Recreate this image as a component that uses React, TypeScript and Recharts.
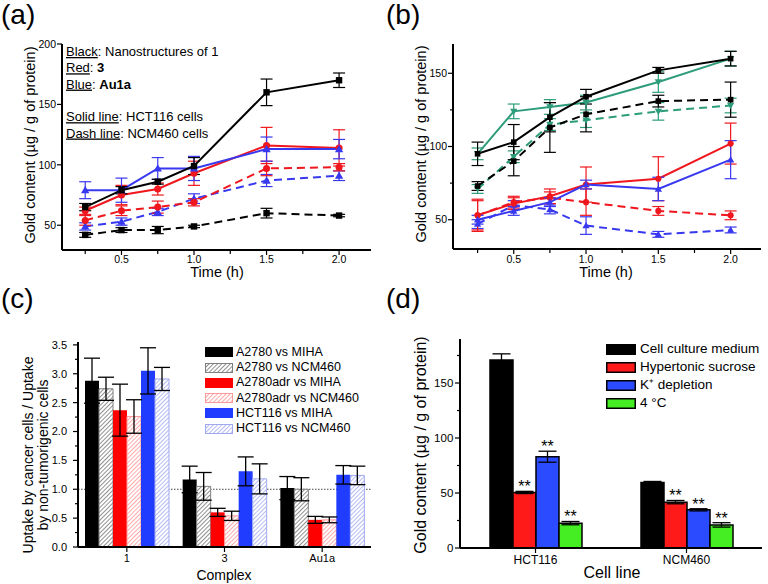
import React from 'react';
import {
  LineChart, Line, BarChart, Bar, XAxis, YAxis, ErrorBar, ReferenceLine, Legend, LabelList,
} from 'recharts';

const FONT = '"Liberation Sans", Arial, Helvetica, sans-serif';
const BLACK = '#000000';
const RED = '#f0161e';
const BLUE = '#3838f0';
const TEAL = '#2c9c7a';
const FRAME = { stroke: BLACK, strokeWidth: 2 };

// ---- (a) / (b): gold content vs time
const TIMES = [0.25, 0.5, 0.75, 1.0, 1.5, 2.0];
const TIME_TICKS = [0.25, 0.5, 0.75, 1.0, 1.25, 1.5, 1.75, 2.0];
const TIME_LABELS = [0.5, 1.0, 1.5, 2.0];

// (a) solid = HCT116, dash = NCM460
const A_BLACK_SOLID = [65, 79, 86, 99, 160, 170];
const A_BLACK_SOLID_ERR = [3, 3, 2, 7, 11, 6];
const A_RED_SOLID = [62, 75, 80, 93, 116, 114];
const A_RED_SOLID_ERR = [3, 8, 5, 10, 15, 15];
const A_BLUE_SOLID = [79, 79, 97, 97, 113, 113];
const A_BLUE_SOLID_ERR = [7, 10, 9, 10, 10, 8];
const A_BLACK_DASH = [42, 46, 46, 49, 60, 58];
const A_BLACK_DASH_ERR = [2, 2, 3, 1, 4, 1];
const A_RED_DASH = [54, 62, 65, 69, 97, 98];
const A_RED_DASH_ERR = [4, 4, 5, 3, 6, 3];
const A_BLUE_DASH = [49, 53, 61, 72, 87, 91];
const A_BLUE_DASH_ERR = [3, 3, 3, 4, 5, 4];
const A_Y_TICKS = [50, 100, 150, 200];

// (b)
const B_BLACK_SOLID = [95, 103, 120, 134, 152, 160];
const B_BLACK_SOLID_ERR = [8, 12, 10, 5, 2, 5];
const B_GREEN_SOLID = [95, 124, 127, 130, 144, 160];
const B_GREEN_SOLID_ERR = [4, 5, 5, 5, 7, 5];
const B_BLACK_DASH = [73, 90, 113, 122, 131, 132];
const B_BLACK_DASH_ERR = [3, 10, 17, 12, 4, 12];
const B_GREEN_DASH = [71, 93, 115, 118, 124, 128];
const B_GREEN_DASH_ERR = [3, 4, 4, 5, 6, 5];
const B_RED_SOLID = [53, 61, 66, 74, 78, 102];
const B_RED_SOLID_ERR = [10, 4, 5, 12, 15, 14];
const B_BLUE_SOLID = [50, 56, 62, 74, 71, 91];
const B_BLUE_SOLID_ERR = [3, 3, 3, 3, 8, 13];
const B_RED_DASH = [53, 62, 65, 62, 56, 53];
const B_RED_DASH_ERR = [11, 4, 4, 9, 3, 3];
const B_BLUE_DASH = [47, 60, 57, 46, 40, 43];
const B_BLUE_DASH_ERR = [3, 3, 3, 6, 2, 2];
const B_Y_TICKS = [50, 75, 100, 125, 150];
const B_Y_LABELS = [50, 100, 150];

// ---- (c): uptake ratios
const C_CATEGORIES = ['1', '3', 'Au1a'];
const C_SERIES = ['A2780 vs MIHA', 'A2780 vs NCM460', 'A2780adr vs MIHA', 'A2780adr vs NCM460', 'HCT116 vs MIHA', 'HCT116 vs NCM460'];
const C_A2780_MIHA = [2.88, 1.17, 1.02];
const C_A2780_MIHA_ERR = [0.39, 0.23, 0.2];
const C_A2780_NCM = [2.74, 1.05, 1.0];
const C_A2780_NCM_ERR = [0.2, 0.24, 0.2];
const C_ADR_MIHA = [2.37, 0.6, 0.47];
const C_ADR_MIHA_ERR = [0.45, 0.07, 0.06];
const C_ADR_NCM = [2.26, 0.54, 0.47];
const C_ADR_NCM_ERR = [0.29, 0.08, 0.05];
const C_HCT_MIHA = [3.05, 1.31, 1.25];
const C_HCT_MIHA_ERR = [0.4, 0.25, 0.16];
const C_HCT_NCM = [2.91, 1.18, 1.24];
const C_HCT_NCM_ERR = [0.2, 0.26, 0.16];
const C_Y_TICKS = [0, 0.25, 0.5, 0.75, 1, 1.25, 1.5, 1.75, 2, 2.25, 2.5, 2.75, 3, 3.25, 3.5];
const C_Y_LABELS = [0, 0.5, 1, 1.5, 2, 2.5, 3, 3.5];

// ---- (d): uptake inhibition
const D_CATEGORIES = ['HCT116', 'NCM460'];
const D_SERIES = ['Cell culture medium', 'Hypertonic sucrose', 'K⁺ depletion', '4 °C'];
const D_MEDIUM = [171, 59.5];
const D_MEDIUM_ERR = [5.5, 1];
const D_SUCROSE = [50.5, 41.7];
const D_SUCROSE_ERR = [1, 1.5];
const D_KDEPL = [83, 34.7];
const D_KDEPL_ERR = [5, 1];
const D_COLD = [22.6, 21];
const D_COLD_ERR = [1.5, 2];
const D_Y_TICKS = [0, 25, 50, 75, 100, 125, 150, 175];
const D_Y_LABELS = [0, 50, 100, 150];

type Shape = 'square' | 'circle' | 'up' | 'down';
type LineSeries = { key: string; values: number[]; errs: number[]; color: string; dashed: boolean; shape: Shape };

const A_SERIES: LineSeries[] = [
  { key: 'kDash', values: A_BLACK_DASH, errs: A_BLACK_DASH_ERR, color: BLACK, dashed: true, shape: 'square' },
  { key: 'bDash', values: A_BLUE_DASH, errs: A_BLUE_DASH_ERR, color: BLUE, dashed: true, shape: 'up' },
  { key: 'rDash', values: A_RED_DASH, errs: A_RED_DASH_ERR, color: RED, dashed: true, shape: 'circle' },
  { key: 'rSolid', values: A_RED_SOLID, errs: A_RED_SOLID_ERR, color: RED, dashed: false, shape: 'circle' },
  { key: 'bSolid', values: A_BLUE_SOLID, errs: A_BLUE_SOLID_ERR, color: BLUE, dashed: false, shape: 'up' },
  { key: 'kSolid', values: A_BLACK_SOLID, errs: A_BLACK_SOLID_ERR, color: BLACK, dashed: false, shape: 'square' },
];

const B_SERIES: LineSeries[] = [
  { key: 'gDash', values: B_GREEN_DASH, errs: B_GREEN_DASH_ERR, color: TEAL, dashed: true, shape: 'down' },
  { key: 'kDash', values: B_BLACK_DASH, errs: B_BLACK_DASH_ERR, color: BLACK, dashed: true, shape: 'square' },
  { key: 'gSolid', values: B_GREEN_SOLID, errs: B_GREEN_SOLID_ERR, color: TEAL, dashed: false, shape: 'down' },
  { key: 'kSolid', values: B_BLACK_SOLID, errs: B_BLACK_SOLID_ERR, color: BLACK, dashed: false, shape: 'square' },
  { key: 'bDash', values: B_BLUE_DASH, errs: B_BLUE_DASH_ERR, color: BLUE, dashed: true, shape: 'up' },
  { key: 'rDash', values: B_RED_DASH, errs: B_RED_DASH_ERR, color: RED, dashed: true, shape: 'circle' },
  { key: 'rSolid', values: B_RED_SOLID, errs: B_RED_SOLID_ERR, color: RED, dashed: false, shape: 'circle' },
  { key: 'bSolid', values: B_BLUE_SOLID, errs: B_BLUE_SOLID_ERR, color: BLUE, dashed: false, shape: 'up' },
];

const timeRows = (series: LineSeries[]) =>
  TIMES.map((t, i) => {
    const row: Record<string, number> = { t };
    series.forEach(s => {
      row[s.key] = s.values[i];
      row[s.key + 'Err'] = s.errs[i];
    });
    return row;
  });

const A_ROWS = timeRows(A_SERIES);
const B_ROWS = timeRows(B_SERIES);

const C_VALUES = [C_A2780_MIHA, C_A2780_NCM, C_ADR_MIHA, C_ADR_NCM, C_HCT_MIHA, C_HCT_NCM];
const C_ERRS = [C_A2780_MIHA_ERR, C_A2780_NCM_ERR, C_ADR_MIHA_ERR, C_ADR_NCM_ERR, C_HCT_MIHA_ERR, C_HCT_NCM_ERR];
const C_STYLE = [
  { fill: '#000000', stroke: 'none' },
  { fill: 'url(#hatchK)', stroke: '#808080' },
  { fill: '#ff0000', stroke: 'none' },
  { fill: 'url(#hatchR)', stroke: '#ff9a9a' },
  { fill: '#1f3cff', stroke: 'none' },
  { fill: 'url(#hatchB)', stroke: '#a0a8f0' },
];
const C_ROWS = C_CATEGORIES.map((cat, i) => {
  const row: Record<string, any> = { cat };
  C_VALUES.forEach((v, s) => {
    row['s' + s] = v[i];
    row['s' + s + 'Err'] = C_ERRS[s][i];
  });
  return row;
});

const D_VALUES = [D_MEDIUM, D_SUCROSE, D_KDEPL, D_COLD];
const D_ERRS = [D_MEDIUM_ERR, D_SUCROSE_ERR, D_KDEPL_ERR, D_COLD_ERR];
const D_COLORS = ['#000000', '#ff1a1a', '#2a4bff', '#44ee22'];
const D_ROWS = D_CATEGORIES.map((cat, i) => {
  const row: Record<string, any> = { cat };
  D_VALUES.forEach((v, s) => {
    row['s' + s] = v[i];
    row['s' + s + 'Err'] = D_ERRS[s][i];
  });
  return row;
});

const marker = (shape: Shape, color: string, r: number) => (p: any) => {
  const { cx, cy, index } = p;
  const k = `m-${index}`;
  if (cx == null || cy == null) return <g key={k} />;
  if (shape === 'square') return <rect key={k} x={cx - r} y={cy - r} width={2 * r} height={2 * r} fill={color} />;
  if (shape === 'circle') return <circle key={k} cx={cx} cy={cy} r={r * 1.1} fill={color} />;
  const h = r * 1.3;
  const pts = shape === 'up'
    ? `${cx},${cy - h} ${cx - h},${cy + h * 0.75} ${cx + h},${cy + h * 0.75}`
    : `${cx},${cy + h} ${cx - h},${cy - h * 0.75} ${cx + h},${cy - h * 0.75}`;
  return <polygon key={k} points={pts} fill={color} />;
};

const xTick = (labels: any[], fs: number, base: number, fmt: (v: any) => string) => (p: any) => {
  const { x, y, payload } = p;
  const major = labels.includes(payload.value);
  return (
    <g>
      <line x1={x} x2={x} y1={y} y2={y + (major ? 5 : 4)} stroke={BLACK} strokeWidth={1.2} />
      {major && (
        <text x={x} y={y + base} textAnchor="middle" fontSize={fs} fontFamily={FONT} fill={BLACK}>
          {fmt(payload.value)}
        </text>
      )}
    </g>
  );
};

const yTick = (labels: any[], fs: number, gap: number, fmt: (v: any) => string) => (p: any) => {
  const { x, y, payload } = p;
  const major = labels.includes(payload.value);
  return (
    <g>
      <line x1={x} x2={x - (major ? 5 : 3)} y1={y} y2={y} stroke={BLACK} strokeWidth={1.2} />
      {major && (
        <text x={x - gap} y={y + fs * 0.36} textAnchor="end" fontSize={fs} fontFamily={FONT} fill={BLACK}>
          {fmt(payload.value)}
        </text>
      )}
    </g>
  );
};

const renderLine = (s: LineSeries, r: number) => (
  <Line
    key={s.key}
    type="linear"
    dataKey={s.key}
    stroke={s.color}
    strokeWidth={2}
    strokeDasharray={s.dashed ? '8 5' : undefined}
    dot={marker(s.shape, s.color, r)}
    activeDot={false}
    isAnimationActive={false}
  >
    <ErrorBar dataKey={s.key + 'Err'} direction="y" width={6} stroke={s.color} strokeWidth={1.2} />
  </Line>
);

const PanelLabel = ({ text, x, y }: { text: string; x: number; y: number }) => (
  <text x={x} y={y} fontSize={28} fontFamily={FONT} fill={BLACK}>{text}</text>
);

const YTitle = ({ x, y, fs, lines }: { x: number; y: number; fs: number; lines: string[] }) => (
  <text transform={`translate(${x},${y}) rotate(-90)`} textAnchor="middle" fontSize={fs} fontFamily={FONT} fill={BLACK}>
    {lines.map((l, i) => (
      <tspan key={i} x={0} dy={i === 0 ? 0 : fs * 1.1}>{l}</tspan>
    ))}
  </text>
);

const GOLD_LABEL = 'Gold content (µg / g of protein)';
const U = { textDecoration: 'underline' } as React.CSSProperties;

function PanelA() {
  const dom: [number, number] = [0.09, 2.22];
  const ydom: [number, number] = [29.5, 200];
  return (
    <LineChart width={384} height={290} data={A_ROWS} margin={{ top: 44, right: 13, bottom: 0, left: 0 }}>
      <XAxis dataKey="t" type="number" domain={dom} ticks={TIME_TICKS} interval={0} allowDataOverflow height={40}
        tickSize={0} tickMargin={0} tickLine={false} axisLine={FRAME} tick={xTick(TIME_LABELS, 10.5, 12.7, v => v.toFixed(1))} />
      <XAxis xAxisId="top" orientation="top" type="number" dataKey="t" domain={dom} allowDataOverflow height={0}
        tick={false} tickLine={false} axisLine={FRAME} />
      <YAxis type="number" domain={ydom} ticks={A_Y_TICKS} interval={0} allowDataOverflow width={62}
        tickSize={0} tickMargin={0} tickLine={false} axisLine={FRAME} tick={yTick(A_Y_TICKS, 10.5, 6, v => String(v))} />
      <YAxis yAxisId="right" orientation="right" type="number" domain={ydom} allowDataOverflow width={0}
        tick={false} tickLine={false} axisLine={FRAME} />
      {A_SERIES.map(s => renderLine(s, 3.2))}
      <g fontSize={13} fontFamily={FONT} fill={BLACK}>
        <text x={66} y={56}><tspan style={U}>Black</tspan>: Nanostructures of 1</text>
        <text x={66} y={72.3}><tspan style={U}>Red</tspan>: <tspan fontWeight="bold">3</tspan></text>
        <text x={66} y={88.6}><tspan style={U}>Blue</tspan>: <tspan fontWeight="bold">Au1a</tspan></text>
        <text x={66} y={121.2}><tspan style={U}>Solid line</tspan>: HCT116 cells</text>
        <text x={66} y={137.5}><tspan style={U}>Dash line</tspan>: NCM460 cells</text>
      </g>
      <PanelLabel text="(a)" x={1} y={24} />
      <YTitle x={35} y={145} fs={14.5} lines={[GOLD_LABEL]} />
      <text x={217} y={277} textAnchor="middle" fontSize={14.5} fontFamily={FONT} fill={BLACK}>Time (h)</text>
    </LineChart>
  );
}

function PanelB() {
  const dom: [number, number] = [0.08, 2.21];
  const ydom: [number, number] = [30, 170];
  return (
    <LineChart width={384} height={290} data={B_ROWS} margin={{ top: 44, right: 7, bottom: 0, left: 0 }}>
      <XAxis dataKey="t" type="number" domain={dom} ticks={TIME_TICKS} interval={0} allowDataOverflow height={41}
        tickSize={0} tickMargin={0} tickLine={false} axisLine={FRAME} tick={xTick(TIME_LABELS, 10.5, 13.5, v => v.toFixed(1))} />
      <XAxis xAxisId="top" orientation="top" type="number" dataKey="t" domain={dom} allowDataOverflow height={0}
        tick={false} tickLine={false} axisLine={FRAME} />
      <YAxis type="number" domain={ydom} ticks={B_Y_TICKS} interval={0} allowDataOverflow width={69}
        tickSize={0} tickMargin={0} tickLine={false} axisLine={FRAME} tick={yTick(B_Y_LABELS, 10.5, 6, v => String(v))} />
      <YAxis yAxisId="right" orientation="right" type="number" domain={ydom} allowDataOverflow width={0}
        tick={false} tickLine={false} axisLine={FRAME} />
      {B_SERIES.map(s => renderLine(s, 2.8))}
      <PanelLabel text="(b)" x={2} y={24} />
      <YTitle x={42} y={144} fs={14.5} lines={[GOLD_LABEL]} />
      <text x={222} y={277} textAnchor="middle" fontSize={14.5} fontFamily={FONT} fill={BLACK}>Time (h)</text>
    </LineChart>
  );
}

// legend rows kept in series order, whatever order the payload arrives in
const ordered = (payload: any[] | undefined, names: string[]) =>
  [...(payload || [])].sort((a, b) => names.indexOf(a.value) - names.indexOf(b.value));

const renderCLegend = (props: any) => (
  <div style={{ fontFamily: FONT, fontSize: 12.5, color: BLACK }}>
    {ordered(props.payload, C_SERIES).map((item: any) => {
      const i = Math.max(0, C_SERIES.indexOf(item.value));
      return (
        <div key={item.value} style={{ display: 'flex', alignItems: 'center', height: 15.3 }}>
          <svg width={28} height={10} style={{ display: 'block', flex: 'none' }}>
            <rect x={0.5} y={0.5} width={27} height={9} fill={C_STYLE[i].fill}
              stroke={C_STYLE[i].stroke === 'none' ? C_STYLE[i].fill : C_STYLE[i].stroke} strokeWidth={1} />
          </svg>
          <span style={{ marginLeft: 3, whiteSpace: 'nowrap', lineHeight: '15px' }}>{item.value}</span>
        </div>
      );
    })}
  </div>
);

const hatch = (id: string, color: string) => (
  <pattern id={id} patternUnits="userSpaceOnUse" width={3} height={3} patternTransform="rotate(45)">
    <rect width={3} height={3} fill="#ffffff" />
    <line x1={0} y1={0} x2={0} y2={3} stroke={color} strokeWidth={1.3} />
  </pattern>
);

function PanelC() {
  const ydom: [number, number] = [0, 3.55];
  return (
    <BarChart width={384} height={304} data={C_ROWS} margin={{ top: 62, right: 13, bottom: 0, left: 0 }} barGap={0} barSize={14}>
      <defs>
        {hatch('hatchK', '#555555')}
        {hatch('hatchR', '#ff7a7a')}
        {hatch('hatchB', '#8c96ee')}
      </defs>
      <XAxis dataKey="cat" interval={0} height={37} tickSize={0} tickMargin={0} tickLine={false} axisLine={FRAME}
        tick={xTick(C_CATEGORIES, 11, 15, v => v)} />
      <XAxis xAxisId="top" orientation="top" dataKey="cat" height={0} tick={false} tickLine={false} axisLine={FRAME} />
      <YAxis type="number" domain={ydom} ticks={C_Y_TICKS} interval={0} allowDataOverflow width={78}
        tickSize={0} tickMargin={0} tickLine={false} axisLine={FRAME} tick={yTick(C_Y_LABELS, 11, 11, v => v.toFixed(1))} />
      <YAxis yAxisId="right" orientation="right" type="number" domain={ydom} allowDataOverflow width={0}
        tick={false} tickLine={false} axisLine={FRAME} />
      <ReferenceLine y={1} stroke="#444444" strokeDasharray="1.5 1.5" strokeWidth={1} zIndex={0} />
      {C_SERIES.map((name, s) => (
        <Bar key={name} dataKey={'s' + s} name={name} fill={C_STYLE[s].fill} stroke={C_STYLE[s].stroke}
          strokeWidth={1} isAnimationActive={false}>
          <ErrorBar dataKey={'s' + s + 'Err'} direction="y" width={8} stroke={BLACK} strokeWidth={1.3} />
        </Bar>
      ))}
      <Legend layout="vertical" align="center" verticalAlign="middle"
        wrapperStyle={{ left: 205, top: 64.6, width: 175 }} content={renderCLegend} />
      <PanelLabel text="(c)" x={1} y={27.5} />
      <YTitle x={33} y={175} fs={14} lines={['Uptake by cancer cells / Uptake', 'by non-tumorigenic cells']} />
      <text x={224} y={299.5} textAnchor="middle" fontSize={14} fontFamily={FONT} fill={BLACK}>Complex</text>
    </BarChart>
  );
}

const renderDLegend = (props: any) => (
  <div style={{ fontFamily: FONT, fontSize: 13.5, color: BLACK }}>
    {ordered(props.payload, D_SERIES).map((item: any) => {
      const i = Math.max(0, D_SERIES.indexOf(item.value));
      return (
        <div key={item.value} style={{ display: 'flex', alignItems: 'center', height: 17.9 }}>
          <svg width={30} height={11} style={{ display: 'block', flex: 'none' }}>
            <rect x={0.75} y={0.75} width={28.5} height={9.5} fill={D_COLORS[i]} stroke={BLACK} strokeWidth={1.5} />
          </svg>
          <span style={{ marginLeft: 4, whiteSpace: 'nowrap', lineHeight: '16px' }}>{item.value}</span>
        </div>
      );
    })}
  </div>
);

const starLabel = (errs: number[]) => (p: any) => {
  const vb = p.viewBox || p;
  const { x, y, width, height } = vb;
  const value = Number(p.value);
  const index = p.index ?? 0;
  if (x == null || !value) return <g />;
  const errTop = y - (errs[index] * height) / value;
  return (
    <text key={`st-${index}`} x={x + width / 2} y={errTop + 1} textAnchor="middle" fontSize={16} fontFamily={FONT} fill={BLACK}>
      **
    </text>
  );
};

function PanelD() {
  const ydom: [number, number] = [0, 190];
  return (
    <BarChart width={384} height={304} data={D_ROWS} margin={{ top: 59, right: 6, bottom: 0, left: 0 }} barGap={0} barSize={23}>
      <XAxis dataKey="cat" interval={0} height={36} tickSize={0} tickMargin={0} tickLine={false} axisLine={FRAME}
        tick={xTick(D_CATEGORIES, 12, 16, v => v)} />
      <XAxis xAxisId="top" orientation="top" dataKey="cat" height={0} tick={false} tickLine={false} axisLine={FRAME} />
      <YAxis type="number" domain={ydom} ticks={D_Y_TICKS} interval={0} allowDataOverflow width={76}
        tickSize={0} tickMargin={0} tickLine={false} axisLine={FRAME} tick={yTick(D_Y_LABELS, 11.5, 6.7, v => String(v))} />
      <YAxis yAxisId="right" orientation="right" type="number" domain={ydom} allowDataOverflow width={0}
        tick={false} tickLine={false} axisLine={FRAME} />
      {D_SERIES.map((name, s) => (
        <Bar key={name} dataKey={'s' + s} name={name} fill={D_COLORS[s]} stroke={BLACK} strokeWidth={1.5}
          isAnimationActive={false}>
          <ErrorBar dataKey={'s' + s + 'Err'} direction="y" width={9} stroke={BLACK} strokeWidth={1.3} />
          {s > 0 && <LabelList dataKey={'s' + s} content={starLabel(D_ERRS[s])} />}
        </Bar>
      ))}
      <Legend layout="vertical" align="center" verticalAlign="middle"
        wrapperStyle={{ left: 222, top: 60.4, width: 160 }} content={renderDLegend} />
      <PanelLabel text="(d)" x={2} y={27.5} />
      <YTitle x={42} y={165} fs={16} lines={[GOLD_LABEL]} />
      <text x={228} y={298} textAnchor="middle" fontSize={16} fontFamily={FONT} fill={BLACK}>Cell line</text>
    </BarChart>
  );
}

export default function App() {
  return (
    <div style={{ position: 'fixed', left: 0, top: 0, width: 768, height: 584, background: '#ffffff', fontFamily: FONT, overflow: 'hidden' }}>
      <div style={{ position: 'absolute', left: 0, top: 0 }}><PanelA /></div>
      <div style={{ position: 'absolute', left: 384, top: 0 }}><PanelB /></div>
      <div style={{ position: 'absolute', left: 0, top: 280 }}><PanelC /></div>
      <div style={{ position: 'absolute', left: 384, top: 280 }}><PanelD /></div>
    </div>
  );
}
